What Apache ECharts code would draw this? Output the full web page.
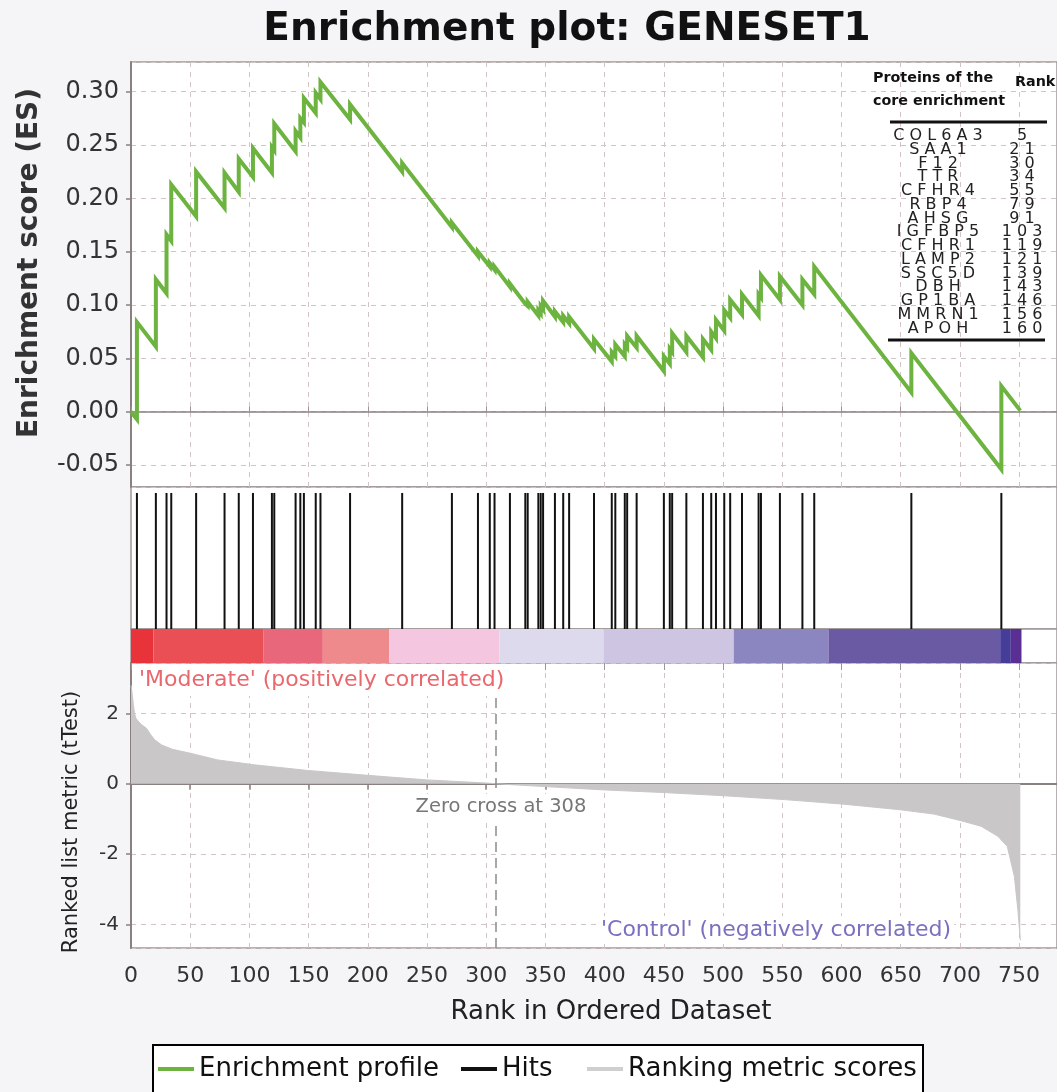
<!DOCTYPE html>
<html><head><meta charset="utf-8">
<script src="https://cdn.jsdelivr.net/npm/echarts@6/dist/echarts.min.js"></script>
<style>html,body{margin:0;padding:0;background:#f5f5f7;}#c{width:1057px;height:1092px;}</style>
</head><body><div id="c"></div>
<script>
// ---------- DATA ----------
const hitRanks = [5,21,30,34,55,79,91,103,119,121,139,143,146,156,160,185,229,271,293,303,307,320,333,335,344,346,348,358,365,370,391,406,409,417,419,427,450,455,457,469,483,490,494,501,506,516,530,532,548,567,577,659,735];

// running enrichment score: [rank, ES] (value before and after each hit)
const esPoints = [
  [0,0.000],[5,-0.007],[5,0.084],[21,0.061],[21,0.124],[30,0.111],[30,0.166],[34,0.160],[34,0.213],
  [55,0.183],[55,0.225],[79,0.191],[79,0.224],[91,0.206],[91,0.237],[103,0.220],[103,0.247],
  [119,0.224],[119,0.248],[121,0.245],[121,0.270],[139,0.244],[139,0.263],[143,0.257],[143,0.275],
  [146,0.271],[146,0.294],[156,0.280],[156,0.299],[160,0.293],[160,0.309],[185,0.274],[185,0.288],
  [229,0.225],[229,0.233],[271,0.173],[271,0.177],[293,0.146],[293,0.150],[303,0.136],[303,0.139],
  [307,0.133],[307,0.136],[320,0.117],[320,0.120],[333,0.101],[333,0.102],[335,0.099],[335,0.103],
  [344,0.090],[344,0.095],[346,0.092],[346,0.099],[348,0.096],[348,0.104],[358,0.089],[358,0.094],
  [365,0.084],[365,0.090],[370,0.083],[370,0.089],[391,0.059],[391,0.068],[406,0.047],[406,0.056],
  [409,0.052],[409,0.063],[417,0.052],[417,0.063],[419,0.060],[419,0.071],[427,0.060],[427,0.071],
  [450,0.038],[450,0.052],[455,0.045],[455,0.059],[457,0.056],[457,0.0735],[469,0.056],[469,0.071],
  [483,0.051],[483,0.068],[490,0.058],[490,0.075],[494,0.069],[494,0.086],[501,0.076],[501,0.095],
  [506,0.088],[506,0.105],[516,0.091],[516,0.110],[530,0.090],[530,0.110],[532,0.107],[532,0.128],
  [548,0.105],[548,0.127],[567,0.100],[567,0.124],[577,0.110],[577,0.136],[659,0.018],[659,0.055],
  [735,-0.054],[735,0.024],[751,0.001]
];

// ranked list metric (tTest): [rank, value]
const metricPoints = [
  [0,2.80],[1,2.55],[2,2.25],[3,2.00],[4,1.87],[6,1.78],[9,1.68],[13,1.58],[17,1.38],[20,1.25],
  [26,1.10],[35,0.98],[50,0.87],[73,0.68],[104,0.54],[149,0.38],[200,0.24],[250,0.11],[301,0.02],
  [308,0.00],[350,-0.08],[397,-0.17],[450,-0.25],[501,-0.34],[552,-0.45],[602,-0.58],[650,-0.74],
  [678,-0.86],[701,-1.05],[718,-1.21],[732,-1.49],[740,-1.78],[746,-2.63],[749,-3.60],[751,-4.45]
];
const zeroCross = 308;

// colour-bar segment edges (ranks)
const barEdges = [0,19,112,162,218,311,399,509,589,734,743,752];

const geneNames = ['COL6A3','SAA1','F12','TTR','CFHR4','RBP4','AHSG','IGFBP5','CFHR1','LAMP2','SSC5D','DBH','GP1BA','MMRN1','APOH'];
const geneRanks = [5,21,30,34,55,79,91,103,119,121,139,143,146,156,160];

// ---------- STYLE ----------
const barColors = ['#e8333a','#ea4f55','#e8677a','#ef8a8c','#f5c6e0','#dedaee','#cdc5e1','#8b86c0','#6a5aa3','#463d98','#5a2f94'];
const FONT = 'DejaVu Sans';
const gridLineColor = '#d2c4c4';
const frameColor = '#a09696';
const esColor = '#6cb33f';

const chart = echarts.init(document.getElementById('c'));

const L = 131;
const spaced = s => String(s).split('').join(' ');

const tableGraphics = [];
geneNames.forEach((g, i) => {
  const y = 136 + i * 13.74;
  tableGraphics.push({type:'text', z:10, x:938, y:y, style:{text:spaced(g), font:'16px "DejaVu Sans"', fill:'#222', textAlign:'center', textVerticalAlign:'middle'}});
  tableGraphics.push({type:'text', z:10, x:1022, y:y, style:{text:spaced(geneRanks[i]), font:'16px "DejaVu Sans"', fill:'#222', textAlign:'center', textVerticalAlign:'middle'}});
});

const legendCommon = {
  orient:'horizontal', padding:0, itemWidth:36, itemHeight:4,
  textStyle:{fontFamily:FONT, fontSize:26, color:'#111'}
};

const option = {
  backgroundColor: '#f5f5f7',
  animation: false,
  grid: [
    {left:L, right:0, top:62, height:425, show:true, backgroundColor:'#fff', borderColor:frameColor, borderWidth:1.5},
    {left:L, right:0, top:487, height:142, show:true, backgroundColor:'#fff', borderColor:frameColor, borderWidth:1.5},
    {left:L, right:0, top:629, height:34, show:true, backgroundColor:'#fff', borderColor:frameColor, borderWidth:1.5},
    {left:L, right:0, top:663, height:285, show:true, backgroundColor:'#fff', borderColor:frameColor, borderWidth:1.5}
  ],
  xAxis: [
    {gridIndex:0, type:'value', min:0, max:782, minInterval:50, maxInterval:50,
     axisLine:{show:false}, axisLabel:{show:false}, axisTick:{show:true, inside:true, length:5, lineStyle:{color:'#a09696'}},
     splitLine:{show:true, lineStyle:{color:gridLineColor, type:[5,5], width:1}}},
    {gridIndex:1, type:'value', min:0, max:782, show:false},
    {gridIndex:2, type:'value', min:0, max:782, show:false},
    {gridIndex:3, type:'value', min:0, max:782, minInterval:50, maxInterval:50,
     axisLine:{show:true, lineStyle:{color:'#8a8080', width:2}},
     axisTick:{show:true, length:6, lineStyle:{color:'#8a8080', width:1.5}},
     axisLabel:{show:true, showMaxLabel:false, fontFamily:FONT, fontSize:22, color:'#333', margin:17},
     splitLine:{show:true, lineStyle:{color:gridLineColor, type:[5,5], width:1}}},
    {gridIndex:3, type:'value', min:0, max:782, minInterval:50, maxInterval:50, position:'top',
     axisLine:{show:false}, axisLabel:{show:false}, splitLine:{show:false},
     axisTick:{show:true, inside:true, length:7, lineStyle:{color:'#a09696'}}}
  ],
  yAxis: [
    {gridIndex:0, type:'value', min:-0.0706, max:0.3278, splitNumber:8, minInterval:0.05, maxInterval:0.05,
     axisLine:{show:true, lineStyle:{color:'#8a8080', width:2}},
     axisTick:{show:true, length:5, lineStyle:{color:'#8a8080', width:1.5}},
     axisLabel:{showMinLabel:false, showMaxLabel:false, fontFamily:FONT, fontSize:24, color:'#333', margin:12,
       formatter: v => v.toFixed(2)},
     splitLine:{show:true, lineStyle:{color:gridLineColor, type:[5,5], width:1}}},
    {gridIndex:1, type:'value', min:0, max:1, show:false},
    {gridIndex:2, type:'value', min:0, max:1, show:false},
    {gridIndex:3, type:'value', min:-4.67, max:3.435, splitNumber:4, minInterval:2, maxInterval:2,
     axisLine:{show:true, lineStyle:{color:'#8a8080', width:2}},
     axisTick:{show:true, length:5, lineStyle:{color:'#8a8080', width:1.5}},
     axisLabel:{showMinLabel:false, showMaxLabel:false, fontFamily:FONT, fontSize:20, color:'#333', margin:12,
       formatter: v => String(Math.round(v))},
     splitLine:{show:true, lineStyle:{color:gridLineColor, type:[5,5], width:1}}}
  ],
  legend: [
    Object.assign({left:158, top:1056, itemGap:22, data:[
      {name:'Enrichment profile', icon:'rect', itemStyle:{color:esColor}},
      {name:'Hits', icon:'rect', itemStyle:{color:'#111'}}
    ]}, legendCommon),
    Object.assign({left:587, top:1056, itemGap:15, data:[
      {name:'Ranking metric scores', icon:'rect', itemStyle:{color:'#cfcfcf'}}
    ]}, legendCommon)
  ],
  series: [
    {name:'Enrichment profile', type:'line', xAxisIndex:0, yAxisIndex:0, data:esPoints,
     showSymbol:false, symbol:'none', lineStyle:{color:esColor, width:4, join:'miter'}, itemStyle:{color:esColor}, z:3,
     markLine:{silent:true, symbol:'none', z:1, label:{show:false},
       lineStyle:{color:'#8a8080', width:1.5, type:'solid'}, data:[{yAxis:0}]}},
    {name:'Hits', type:'custom', xAxisIndex:1, yAxisIndex:1, data:hitRanks.map(r => [r]),
     encode:{x:0}, itemStyle:{color:'#111'},
     renderItem:(params, api) => {
       const x = api.value(0);
       const p0 = api.coord([x, 0]);
       const p1 = api.coord([x, 0.958]);
       return {type:'line', shape:{x1:p0[0], y1:p0[1], x2:p1[0], y2:p1[1]}, style:{stroke:'#111', lineWidth:2}};
     }},
    {name:'colorbar', type:'custom', xAxisIndex:2, yAxisIndex:2,
     data: barEdges.slice(0,-1).map((s,i) => [s, barEdges[i+1], i]),
     encode:{x:[0,1]},
     renderItem:(params, api) => {
       const a = api.coord([api.value(0), 1]);
       const b = api.coord([api.value(1), 0]);
       return {type:'rect', shape:{x:a[0], y:a[1], width:b[0]-a[0], height:b[1]-a[1]},
               style:{fill:barColors[api.value(2)]}};
     }},
    {name:'Ranking metric scores', type:'line', xAxisIndex:3, yAxisIndex:3, data:metricPoints,
     showSymbol:false, symbol:'none', lineStyle:{color:'#c9c7c7', width:1}, itemStyle:{color:'#cfcfcf'},
     areaStyle:{color:'#c9c7c7', opacity:1},
     markLine:{silent:true, symbol:'none', label:{show:false},
       lineStyle:{color:'#8a8a8a', width:1.5, type:[10,6]}, data:[{xAxis:zeroCross}]}}
  ],
  graphic: [
    {type:'rect', z:-1, shape:{x:153, y:1045, width:770, height:52}, style:{fill:'#fff', stroke:'#000', lineWidth:2}},
    {type:'text', x:567, y:30, style:{text:'Enrichment plot: GENESET1', font:'bold 39px "DejaVu Sans"', fill:'#111', textAlign:'center', textVerticalAlign:'middle'}},
    {type:'text', x:30, y:263, rotation:Math.PI/2, style:{text:'Enrichment score (ES)', font:'bold 28px "DejaVu Sans"', fill:'#333', textAlign:'center', textVerticalAlign:'middle'}},
    {type:'text', x:72, y:822, rotation:Math.PI/2, style:{text:'Ranked list metric (tTest)', font:'21px "DejaVu Sans"', fill:'#222', textAlign:'center', textVerticalAlign:'middle'}},
    {type:'text', x:611, y:1012, style:{text:'Rank in Ordered Dataset', font:'26px "DejaVu Sans"', fill:'#222', textAlign:'center', textVerticalAlign:'middle'}},
    {type:'text', x:136, y:680, z:10, style:{text:"'Moderate' (positively correlated)", font:'22px "DejaVu Sans"', fill:'#e8686e', textAlign:'left', textVerticalAlign:'middle', backgroundColor:'#fff', padding:[5,3,5,3]}},
    {type:'text', x:501, y:807, z:10, style:{text:'Zero cross at ' + zeroCross, font:'19.5px "DejaVu Sans"', fill:'#777', textAlign:'center', textVerticalAlign:'middle', backgroundColor:'#fff', padding:[3,2,3,2]}},
    {type:'text', x:598, y:930, z:10, style:{text:"'Control' (negatively correlated)", font:'22px "DejaVu Sans"', fill:'#7a70c0', textAlign:'left', textVerticalAlign:'middle', backgroundColor:'#fff', padding:[3,3,3,3]}},
    {type:'text', x:873, y:78, z:10, style:{text:'Proteins of the', font:'bold 14.3px "DejaVu Sans"', fill:'#111', textAlign:'left', textVerticalAlign:'middle'}},
    {type:'text', x:873, y:101, z:10, style:{text:'core enrichment', font:'bold 14.3px "DejaVu Sans"', fill:'#111', textAlign:'left', textVerticalAlign:'middle'}},
    {type:'text', x:1015, y:82, z:10, style:{text:'Rank', font:'bold 14.3px "DejaVu Sans"', fill:'#111', textAlign:'left', textVerticalAlign:'middle'}},
    {type:'line', z:10, shape:{x1:890, y1:122, x2:1047, y2:122}, style:{stroke:'#111', lineWidth:3}},
    {type:'line', z:10, shape:{x1:888, y1:340, x2:1045, y2:340}, style:{stroke:'#111', lineWidth:3}},
    ...tableGraphics
  ]
};
chart.setOption(option);
</script></body></html>
